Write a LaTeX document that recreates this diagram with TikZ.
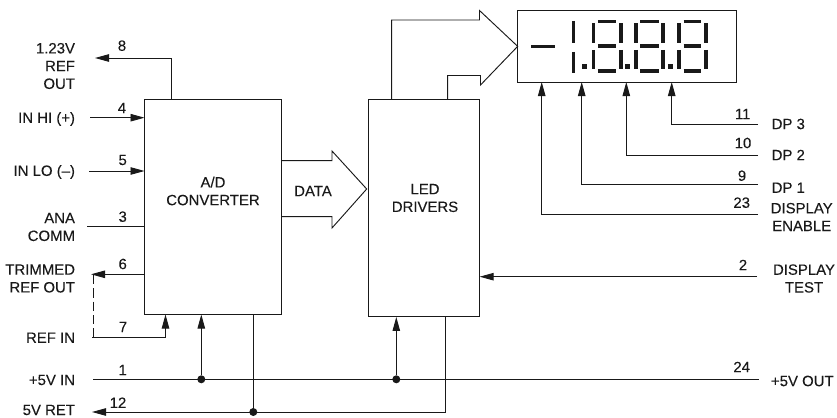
\documentclass[tikz,border=0pt]{standalone}
\usepackage{fontspec}
\setmainfont[FakeBold=0.1]{Liberation Sans}
\usetikzlibrary{arrows.meta}
\definecolor{ink}{gray}{0.1}
\tikzset{
  sig/.style={draw=ink,line width=0.7pt},
  tip/.style={sig,-{Triangle[length=10.5pt,width=5.6pt]}},
  blockbox/.style={draw=ink,line width=0.75pt,inner sep=0pt,outer sep=0pt},
  bigarrow/.style={draw=ink,line width=0.7pt,line join=miter},
  lab/.style={font=\fontsize{11.2}{13.3}\selectfont,text=ink,inner sep=0pt,outer sep=0pt,align=center},
  labl/.style={lab,anchor=east,align=right},
  labr/.style={lab,anchor=west,align=left},
  pin/.style={lab},
  dotnode/.style={circle,fill=ink,inner sep=0pt,minimum size=6pt},
  seg/.style={draw=ink,line width=2.7pt},
  dp/.style={fill=ink,draw=none}
}
\begin{document}
\begin{tikzpicture}[x=0.75pt,y=-0.75pt]
\useasboundingbox (0,0) rectangle (837,417);
% blocks
\node[blockbox,minimum width=103.1pt,minimum height=160.9pt] (ad) at (213.25,207.25) {};
\node[blockbox,minimum width=83.2pt,minimum height=163.1pt] (led) at (424.2,208.25) {};
\node[blockbox,minimum width=164.3pt,minimum height=53.5pt] (disp) at (627.2,46.35) {};
\node[lab] (adt) at (213,191) {A/D\\CONVERTER};
\node[lab] (ledt) at (425,198) {LED\\DRIVERS};
\node[lab] (datat) at (313,191) {DATA};
% free ends
\coordinate (t8) at (95,58);
\coordinate (k8) at (171,58);
\coordinate (s4) at (90,117.7);
\coordinate (s5) at (89,171);
\coordinate (s3) at (87,226.7);
\coordinate (t6) at (91,274.3);
\coordinate (s7) at (92,337);
\coordinate (k7) at (165.5,337);
\coordinate (dashtop) at (93,275);
\coordinate (dashbot) at (93,337);
\coordinate (s1) at (93,379.3);
\coordinate (e24) at (759,379.3);
\coordinate (t12) at (92,412);
\coordinate (k12) at (445.7,412);
\coordinate (e11) at (758,124.3);
\coordinate (k11) at (671.7,124.3);
\coordinate (e10) at (758,155);
\coordinate (k10) at (626.3,155);
\coordinate (e9) at (758,184);
\coordinate (k9) at (581.7,184);
\coordinate (e23) at (758,214.7);
\coordinate (k23) at (541.7,214.7);
\coordinate (e2) at (757,276.7);
% junctions
\node[dotnode] (j1) at (201.3,379.3) {};
\node[dotnode] (j2) at (396.3,379.3) {};
\node[dotnode] (j3) at (253.3,412) {};
% connectors
\draw[tip] (ad.north -| k8) |- (t8);
\draw[tip] (s4) -- (s4 -| ad.west);
\draw[tip] (s5) -- (s5 -| ad.west);
\draw[sig] (s3) -- (s3 -| ad.west);
\draw[tip] (t6 -| ad.west) -- (t6);
\draw[tip] (s7) -| (ad.south -| k7);
\draw[sig,dash pattern=on 7pt off 3pt] (dashtop) -- (dashbot);
\draw[sig] (s1) -- (e24);
\draw[tip] (j1) -- (ad.south -| j1);
\draw[tip] (j2) -- (led.south -| j2);
\draw[sig] (ad.south -| j3) -- (j3);
\draw[tip] (led.south -| k12) |- (t12);
\draw[tip] (e2) -- (e2 -| led.east);
\draw[tip] (e11) -| (disp.south -| k11);
\draw[tip] (e10) -| (disp.south -| k10);
\draw[tip] (e9) -| (disp.south -| k9);
\draw[tip] (e23) -| (disp.south -| k23);
% big arrows
\coordinate (u1) at (391.7,20);
\coordinate (u2) at (479.5,20);
\coordinate (u3) at (479.5,10.5);
\coordinate (u4) at (480.5,85);
\coordinate (u5) at (480.5,75.5);
\coordinate (u6) at (447.7,75.5);
\draw[bigarrow] (led.north -| u1) -- (u1) -- (u2) -- (u3) -- (disp.west) -- (u4) -- (u5) -- (u6) -- (led.north -| u6);
\coordinate (v1) at (332,160.7);
\coordinate (v2) at (332,151);
\coordinate (v3) at (366.7,189);
\coordinate (v4) at (332,228);
\coordinate (v5) at (332,216.7);
\draw[bigarrow] (ad.east |- v1) -- (v1) -- (v2) -- (v3) -- (v4) -- (v5) -- (ad.east |- v5);
% pin numbers
\node[pin] (n8) at (122,45.7) {8};
\node[pin] (n4) at (122,108) {4};
\node[pin] (n5) at (122.7,160) {5};
\node[pin] (n3) at (122.7,216.7) {3};
\node[pin] (n6) at (122.7,264) {6};
\node[pin] (n7) at (123,327) {7};
\node[pin] (n1) at (122.7,370) {1};
\node[pin] (n12) at (118,402.7) {12};
\node[pin] (n11) at (742.7,114) {11};
\node[pin] (n10) at (743,143) {10};
\node[pin] (n9) at (742,175.7) {9};
\node[pin] (n23) at (741.7,202.7) {23};
\node[pin] (n2) at (743,265) {2};
\node[pin] (n24) at (741.7,367) {24};
% left labels
\node[labl] (l8) at (75,66) {1.23V\\REF\\OUT};
\node[labl] (l4) at (75,119) {IN HI (+)};
\node[labl] (l5) at (75,172) {IN LO (–)};
\node[labl] (l3) at (75,227) {ANA\\COMM};
\node[labl] (l6) at (75,278.5) {TRIMMED\\REF OUT};
\node[labl] (l7) at (75,337.7) {REF IN};
\node[labl] (l1) at (75,380) {+5V IN};
\node[labl] (l12) at (75,410) {5V RET};
% right labels
\node[labr] (r11) at (771.7,124) {DP 3};
\node[labr] (r10) at (771.7,155) {DP 2};
\node[labr] (r9) at (771.7,187.7) {DP 1};
\node[lab] (r23) at (801.7,217) {DISPLAY\\ENABLE};
\node[lab] (r2) at (804,278.5) {DISPLAY\\TEST};
\node[labr] (r24) at (771,381) {+5V OUT};
% display digits
\draw[seg] (531,46.5) -- (555,46.5);
\draw[seg] (573.3,21) -- (573.3,43) (573.3,52) -- (573.3,72.7);
\fill[dp] (581.5,64.5) rectangle (586.5,69.5);
\foreach \l/\r in {593.3/620.7,635.7/663,679/705.7}{
  \draw[seg] (\l,23.5) -- (\l,43) (\l,50) -- (\l,69.5)
             (\r,23.5) -- (\r,43) (\r,50) -- (\r,69.5)
             (\l+4.5,21.5) -- (\r-4.5,21.5) (\l+4.5,46) -- (\r-4.5,46) (\l+4.5,71) -- (\r-4.5,71);
}
\fill[dp] (624.8,64.5) rectangle (629.8,69.5);
\fill[dp] (667.5,64.5) rectangle (672.5,69.5);
\end{tikzpicture}
\end{document}
